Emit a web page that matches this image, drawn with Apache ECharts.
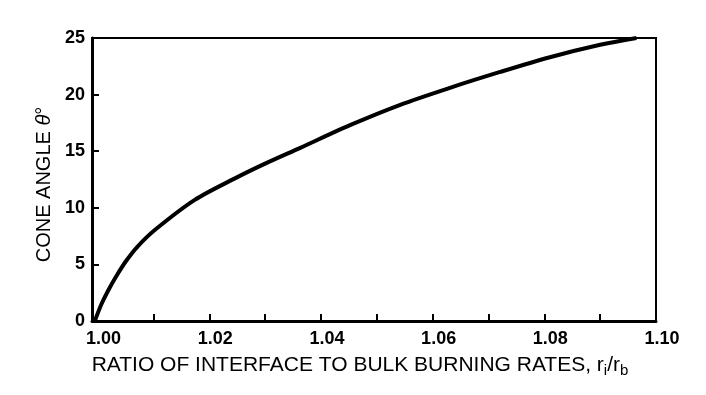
<!DOCTYPE html>
<html>
<head>
<meta charset="utf-8">
<script src="https://cdn.jsdelivr.net/npm/echarts@6/dist/echarts.min.js"></script>
<style>
html,body{margin:0;padding:0;background:#fff;}
#chart{width:706px;height:395px;}
</style>
</head>
<body>
<div id="chart"></div>
<script>
// Data
const ratio = [0.9995, 1.0007, 1.0019, 1.0034, 1.0051, 1.0072, 1.0104, 1.0174, 1.0246, 1.0300, 1.0363, 1.0452, 1.0542, 1.0631, 1.0721, 1.0810, 1.0900, 1.0965];
const coneAngle = [0, 1.5, 2.7, 4.0, 5.3, 6.6, 8.1, 10.7, 12.6, 13.9, 15.3, 17.3, 19.1, 20.6, 22.0, 23.3, 24.4, 25.0];
const xTickLabels = [1.00, 1.02, 1.04, 1.06, 1.08, 1.10];
const xTickMarks = [1.01, 1.02, 1.03, 1.04, 1.05, 1.06, 1.07, 1.08, 1.09];
const yTickLabels = [0, 5, 10, 15, 20, 25];

const FONT = '"Liberation Sans", Arial, Helvetica, sans-serif';
const chart = echarts.init(document.getElementById('chart'), null, {renderer: 'canvas'});
chart.setOption({
  animation: false,
  backgroundColor: '#fff',
  grid: {
    left: 92, right: 50, top: 38, bottom: 74,
    show: true, borderColor: '#000', borderWidth: 2, backgroundColor: 'transparent'
  },
  xAxis: {
    type: 'value',
    min: 0.999, max: 1.1,
    name: 'RATIO OF INTERFACE TO BULK BURNING RATES, r{sub|i}/r{sub|b}',
    nameLocation: 'middle',
    nameGap: 27,
    nameTextStyle: {
      color: '#000', fontFamily: FONT, fontSize: 21, lineHeight: 25,
      padding: [0, 28, 0, 0],
      rich: {
        sub: {fontSize: 15, fontFamily: FONT, color: '#000', lineHeight: 12, verticalAlign: 'bottom'}
      }
    },
    splitLine: {show: false},
    axisLine: {show: true, onZero: false, lineStyle: {color: '#000', width: 3}},
    axisTick: {show: true, inside: true, length: 7, customValues: xTickMarks, lineStyle: {color: '#000', width: 2}},
    axisLabel: {
      customValues: xTickLabels,
      formatter: v => Number(v).toFixed(2),
      color: '#000', fontFamily: FONT, fontSize: 18, fontWeight: 'bold',
      margin: 9, padding: [0, 0, 0, 12]
    }
  },
  yAxis: {
    type: 'value',
    min: 0, max: 25, interval: 5,
    name: 'CONE ANGLE {th|θ}°',
    nameLocation: 'middle',
    nameGap: 37,
    nameTextStyle: {
      color: '#000', fontFamily: FONT, fontSize: 20,
      padding: [0, 0, 0, -10],
      rich: {
        th: {fontSize: 20, fontStyle: 'italic', fontFamily: FONT, color: '#000'}
      }
    },
    splitLine: {show: false},
    axisLine: {show: true, onZero: false, lineStyle: {color: '#000', width: 3}},
    axisTick: {show: true, inside: true, length: 7, lineStyle: {color: '#000', width: 2}},
    axisLabel: {
      customValues: yTickLabels,
      color: '#000', fontFamily: FONT, fontSize: 18, fontWeight: 'bold', margin: 7
    }
  },
  series: [{
    type: 'line',
    data: ratio.map((r, i) => [r, coneAngle[i]]),
    smooth: 0.3,
    showSymbol: false,
    symbol: 'none',
    clip: false,
    lineStyle: {color: '#000', width: 4}
  }]
});
</script>
</body>
</html>
